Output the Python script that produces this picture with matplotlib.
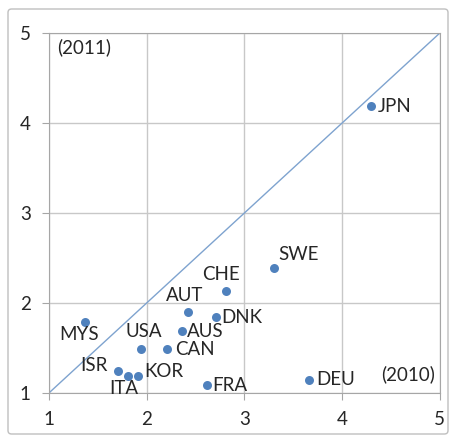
import matplotlib.pyplot as plt
from matplotlib.patches import FancyBboxPatch

countries = ['JPN', 'SWE', 'CHE', 'AUT', 'DNK', 'AUS', 'MYS', 'USA', 'CAN',
             'ISR', 'ITA', 'KOR', 'FRA', 'DEU']
x2010 = [4.30, 3.30, 2.81, 2.42, 2.71, 2.36, 1.37, 1.94, 2.21,
         1.71, 1.81, 1.91, 2.62, 3.66]
y2011 = [4.19, 2.39, 2.13, 1.90, 1.84, 1.69, 1.79, 1.49, 1.49,
         1.24, 1.19, 1.19, 1.09, 1.14]
# label offsets in points
offsets = {'JPN': (4.3, -4.3), 'SWE': (3.1, 6), 'CHE': (-17.3, 8.4),
           'AUT': (-15.4, 8.1), 'DNK': (3.9, -4.3), 'AUS': (3.9, -4.1),
           'MYS': (-18.7, -13), 'USA': (-10.8, 8.6), 'CAN': (6, -4.5),
           'ISR': (-27.4, 0.5), 'ITA': (-13.4, -13), 'KOR': (4.3, -1),
           'FRA': (3.8, -4.3), 'DEU': (5.3, -3.1)}
ticks = [1, 2, 3, 4, 5]

plt.rcParams['font.family'] = ['Lato', 'DejaVu Sans']
fig = plt.figure(figsize=(4.53, 4.37), dpi=100)
fig.patches.append(FancyBboxPatch((8 / 453, 3 / 437), 440 / 453, 425 / 437,
                                  boxstyle='round,pad=0,rounding_size=0.008',
                                  transform=fig.transFigure, fill=False,
                                  edgecolor='#bfbfbf', linewidth=1))
ax = fig.add_axes([0.108, 0.1007, 0.863, 0.8238])

ax.plot([1, 5], [1, 5], color='#7ea3cf', linewidth=1, zorder=2)
ax.scatter(x2010, y2011, s=42, color='#4f81bd', zorder=3, linewidths=0)
for c, x, y in zip(countries, x2010, y2011):
    ax.annotate(c, (x, y), xytext=offsets[c], textcoords='offset points',
                fontsize=13.5, color='#262626')

ax.annotate('(2011)', (1, 5), xytext=(6, -14.5), textcoords='offset points',
            fontsize=13.5, color='#262626')
ax.annotate('(2010)', (5, 1), xytext=(-3.5, 9.6), textcoords='offset points',
            fontsize=13.5, color='#262626', ha='right')

ax.set_xlim(1, 5)
ax.set_ylim(1, 5)
ax.set_xticks(ticks)
ax.set_yticks(ticks)
ax.grid(True, color='#c8c8c8', linewidth=1)
ax.set_axisbelow(True)
for s in ax.spines.values():
    s.set_color('#a6a6a6')
ax.tick_params(direction='out', length=5, color='#a6a6a6', labelsize=13.5,
               labelcolor='#262626', pad=8)
fig.savefig('out.png', dpi=100)
